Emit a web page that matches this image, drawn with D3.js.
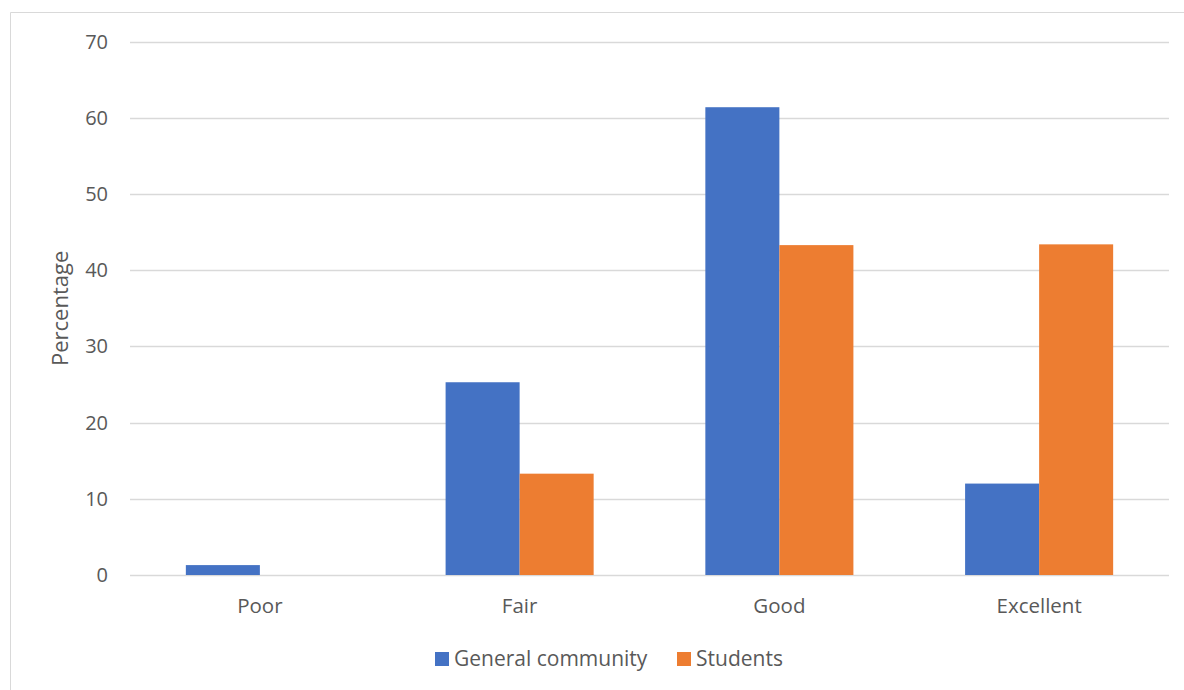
<!DOCTYPE html>
<html>
<head>
<meta charset="utf-8">
<script src="https://cdn.jsdelivr.net/npm/d3@7"></script>
<style>
  html, body { margin: 0; padding: 0; background: #fff; }
  svg { display: block; }
  text { font-family: "Open Sans", "Noto Sans", sans-serif; fill: #595959; }
</style>
</head>
<body>
<svg id="chart" width="1184" height="690"></svg>
<script>
// Ratings by group (percent)
const categories = ["Poor", "Fair", "Good", "Excellent"];
const seriesNames = ["General community", "Students"];
const generalCommunity = [1.3, 25.3, 61.4, 12.0];
const students = [0, 13.3, 43.3, 43.4];
const yTicks = [0, 10, 20, 30, 40, 50, 60, 70];
const colors = ["#4472C4", "#ED7D31"];

const seriesValues = [generalCommunity, students];

const svg = d3.select("#chart");
const W = 1184, H = 690;

// Outer frame (top and left edges visible)
svg.append("path")
  .attr("d", `M10.5,${H} V12.5 H${W}`)
  .attr("fill", "none")
  .attr("stroke", "#D9D9D9")
  .attr("stroke-width", 1);

const plot = { left: 130, right: 1169, top: 41.7, bottom: 575 };

const x = d3.scaleBand()
  .domain(categories)
  .range([plot.left, plot.right])
  .paddingInner(0.43)
  .paddingOuter(0.215);

const x1 = d3.scaleBand()
  .domain(seriesNames)
  .range([0, x.bandwidth()]);

const y = d3.scaleLinear()
  .domain([0, 70])
  .range([plot.bottom, plot.top]);

// Gridlines
svg.append("g")
  .selectAll("line")
  .data(yTicks)
  .join("line")
  .attr("x1", plot.left)
  .attr("x2", plot.right)
  .attr("y1", d => Math.round(y(d)) + 0.5)
  .attr("y2", d => Math.round(y(d)) + 0.5)
  .attr("stroke", "#D9D9D9")
  .attr("stroke-width", 1.3);

// Y axis tick labels
const yAxis = d3.axisLeft(y).tickValues(yTicks).tickSize(0).tickPadding(0);
const gy = svg.append("g")
  .attr("transform", `translate(108,0)`)
  .call(yAxis);
gy.select(".domain").remove();
gy.selectAll("text")
  .attr("font-size", 20)
  .attr("font-family", null)
  .style("fill", "#595959");

// Bars
const groups = svg.append("g")
  .selectAll("g")
  .data(categories)
  .join("g")
  .attr("transform", d => `translate(${x(d)},0)`);

groups.selectAll("rect")
  .data((c, i) => seriesNames.map((s, k) => ({ s, v: seriesValues[k][i], k })))
  .join("rect")
  .attr("x", d => x1(d.s))
  .attr("width", x1.bandwidth())
  .attr("y", d => y(d.v))
  .attr("height", d => y(0) - y(d.v))
  .attr("fill", d => colors[d.k]);

// Category labels
const xAxis = d3.axisBottom(x).tickSize(0).tickPadding(0);
const gx = svg.append("g")
  .attr("transform", `translate(0,${plot.bottom})`)
  .call(xAxis);
gx.select(".domain").remove();
gx.selectAll("text")
  .attr("dy", null)
  .attr("y", 38)
  .attr("font-size", 20.5)
  .attr("font-family", null)
  .style("fill", "#595959");

// Y axis title
svg.append("text")
  .attr("transform", `translate(68,${(plot.top + plot.bottom) / 2}) rotate(-90)`)
  .attr("text-anchor", "middle")
  .attr("font-size", 22)
  .text("Percentage");

// Legend
const legendItems = [
  { name: seriesNames[0], color: colors[0], x: 435 },
  { name: seriesNames[1], color: colors[1], x: 677 }
];
const lg = svg.append("g");
legendItems.forEach(it => {
  lg.append("rect")
    .attr("x", it.x).attr("y", 652)
    .attr("width", 14).attr("height", 14)
    .attr("fill", it.color);
  lg.append("text")
    .attr("x", it.x + 19).attr("y", 666)
    .attr("font-size", 21)
    .text(it.name);
});
</script>
</body>
</html>
